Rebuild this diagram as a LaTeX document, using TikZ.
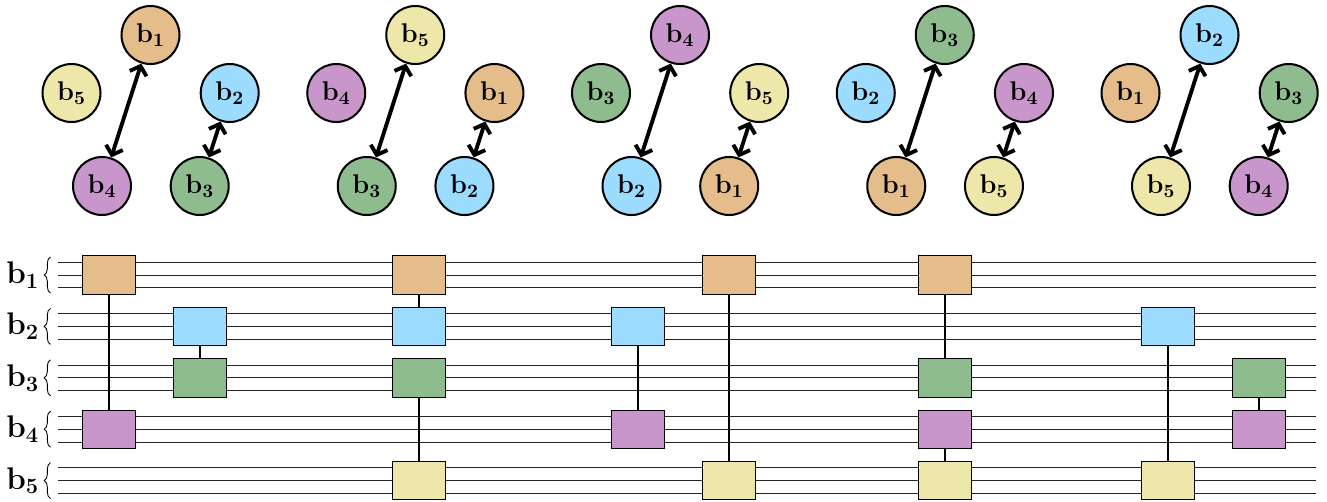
\documentclass[tikz,border=0pt]{standalone}
\usepackage{fix-cm}
\usepackage{amsmath}
\usetikzlibrary{arrows.meta,decorations.pathreplacing}
\definecolor{colb1}{HTML}{E5BD8A}
\definecolor{colb2}{HTML}{9CDCFF}
\definecolor{colb3}{HTML}{8FBC8F}
\definecolor{colb4}{HTML}{C996CC}
\definecolor{colb5}{HTML}{EDE8AA}
\begin{document}
\begin{tikzpicture}[
            x=0.02cm,
            y=-0.02cm,
            block/.style={circle, draw=black, line width=1.15pt, minimum size=58*0.02cm, inner sep=0pt, font=\fontsize{15.4}{18}\selectfont},
            gate/.style={rectangle, draw=black, line width=0.5pt, minimum width=53*0.02cm, minimum height=38.5*0.02cm, inner sep=0pt},
            swap/.style={{Straight Barb[length=4.5pt,width=10pt]}-{Straight Barb[length=4.5pt,width=10pt]}, line width=2.2pt},
            link/.style={line width=1.1pt},
            wire/.style={black!85, line width=0.55pt},
            regbrace/.style={decorate, decoration={brace, amplitude=3.6pt, mirror}, line width=0.5pt},
            reglabel/.style={font=\fontsize{17.8}{21}\selectfont, inner sep=0pt},
        ]
        \useasboundingbox (0,0) rectangle (1327,501);
        % TOP: one pairing per round
        \foreach \n/\ba/\bb/\bc/\bd/\be in {1/1/5/2/4/3, 2/5/4/1/3/2, 3/4/3/5/2/1, 4/3/2/4/1/5, 5/2/1/3/5/4} {
            \begin{scope}[shift={({(\n-1)*264.75},0)}]
                \node[block, fill=colb\ba] (r\n b\ba) at (150.5,35) {$\mathbf{b_\ba}$};
                \node[block, fill=colb\bb] (r\n b\bb) at (71.5,93) {$\mathbf{b_\bb}$};
                \node[block, fill=colb\bc] (r\n b\bc) at (229.7,93) {$\mathbf{b_\bc}$};
                \node[block, fill=colb\bd] (r\n b\bd) at (102,186) {$\mathbf{b_\bd}$};
                \node[block, fill=colb\be] (r\n b\be) at (199.7,186) {$\mathbf{b_\be}$};
                \draw[swap] (r\n b\ba) -- (r\n b\bd);
                \draw[swap] (r\n b\bc) -- (r\n b\be);
            \end{scope}
        }
        % BOTTOM: registers
        \foreach \i in {1,...,5} {
            \pgfmathsetmacro{\ymid}{275+51.4*(\i-1)}
            \foreach \d in {-12.8,0,12.8} {
                \draw[wire] (58,\ymid+\d) -- (1316,\ymid+\d);
            }
            \draw[regbrace] (50.5,\ymid-18) -- (50.5,\ymid+18);
            \node[reglabel, anchor=east] (reg\i) at (39.5,\ymid) {$\mathbf{b_\i}$};
        }
        % gates, two per entry
        \foreach \k/\x/\p/\q in {1/109.3/1/4, 2/200/2/3, 3/419.3/1/2, 4/419.3/3/5, 5/638.2/2/4, 6/729.3/1/5, 7/945.3/1/3, 8/945.3/4/5, 9/1168/2/5, 10/1259/3/4} {
            \node[gate, fill=colb\p] (g\k p) at (\x,{275+51.4*(\p-1)}) {};
            \node[gate, fill=colb\q] (g\k q) at (\x,{275+51.4*(\q-1)}) {};
            \draw[link] (g\k p) -- (g\k q);
        }
        \end{tikzpicture}
\end{document}
